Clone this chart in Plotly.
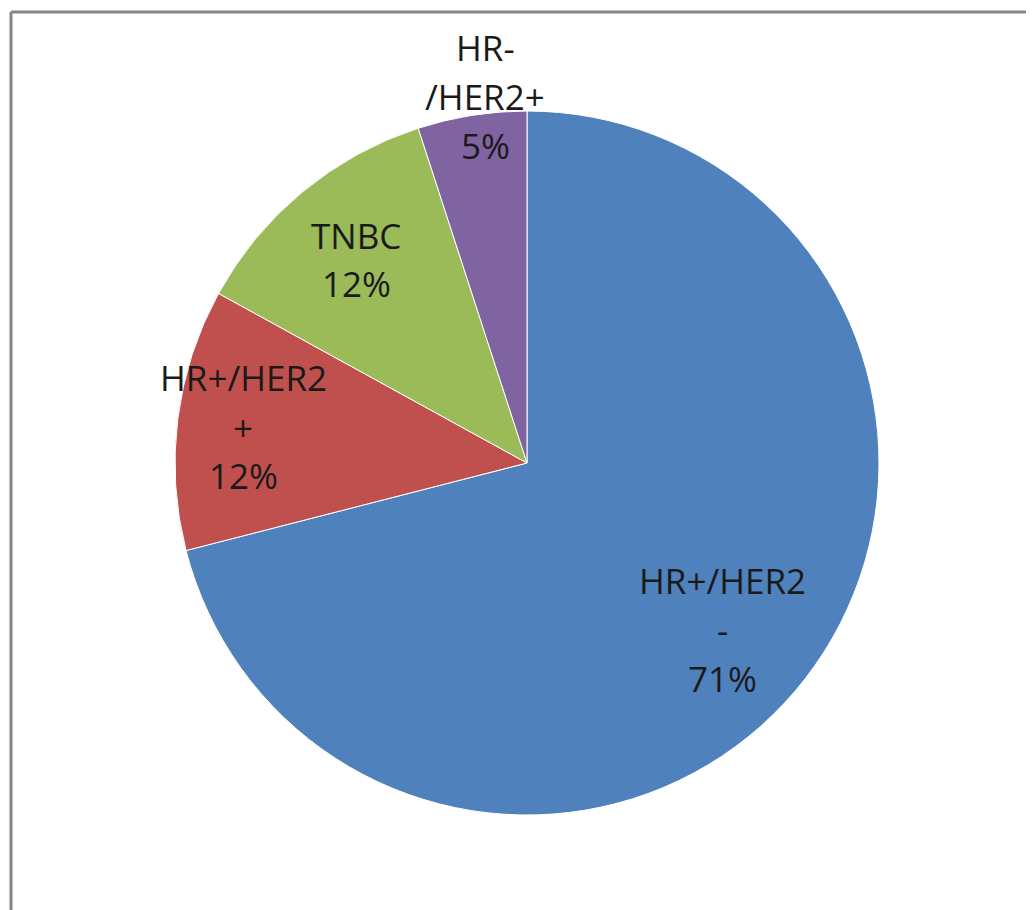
import plotly.graph_objects as go

labels = ["HR+/HER2-", "HR+/HER2+", "TNBC", "HR-/HER2+"]
values = [71, 12, 12, 5]
label_lines = [["HR+/HER2", "-"], ["HR+/HER2", "+"], ["TNBC"], ["HR-", "/HER2+"]]
colors = ["#4F81BD", "#C0504D", "#9BBB59", "#8064A2"]

OFF = 8  # page body margin
W, H = 1034 - OFF, 910 - OFF
cx, cy, R = 527 - OFF, 463 - OFF, 352

# label anchor (first line centre) in page pixels
label_pos = [(722, 580), (243, 378), (356, 235), (485, 48)]
line_step = 49

fig = go.Figure(go.Pie(
    labels=labels,
    values=values,
    sort=False,
    direction="clockwise",
    rotation=0,
    marker=dict(colors=colors, line=dict(color="white", width=1)),
    textinfo="none",
    hoverinfo="label+percent",
    showlegend=False,
    domain=dict(x=[(cx - R) / W, (cx + R) / W], y=[(H - cy - R) / H, (H - cy + R) / H]),
))

total = sum(values)
annotations = []
for lines, v, (px, py) in zip(label_lines, values, label_pos):
    all_lines = lines + [f"{round(100 * v / total)}%"]
    for i, t in enumerate(all_lines):
        annotations.append(dict(
            x=(px - OFF) / W, y=1 - (py - OFF + i * line_step) / H, xref="paper", yref="paper",
            text=t, showarrow=False, xanchor="center", yanchor="middle",
            font=dict(family="Open Sans", size=35, color="#1a1a1a"),
        ))

bx, by = 11 - OFF, 12 - OFF
fig.update_layout(
    width=W, height=H,
    margin=dict(l=0, r=0, t=0, b=0),
    paper_bgcolor="white", plot_bgcolor="white",
    annotations=annotations,
    shapes=[
        dict(type="line", xref="paper", yref="paper", x0=bx / W, x1=bx / W, y0=-0.05, y1=1 - by / H,
             line=dict(color="#868686", width=3)),
        dict(type="line", xref="paper", yref="paper", x0=bx / W, x1=1.05, y0=1 - by / H, y1=1 - by / H,
             line=dict(color="#868686", width=3)),
    ],
)

fig.write_html("out.html")
